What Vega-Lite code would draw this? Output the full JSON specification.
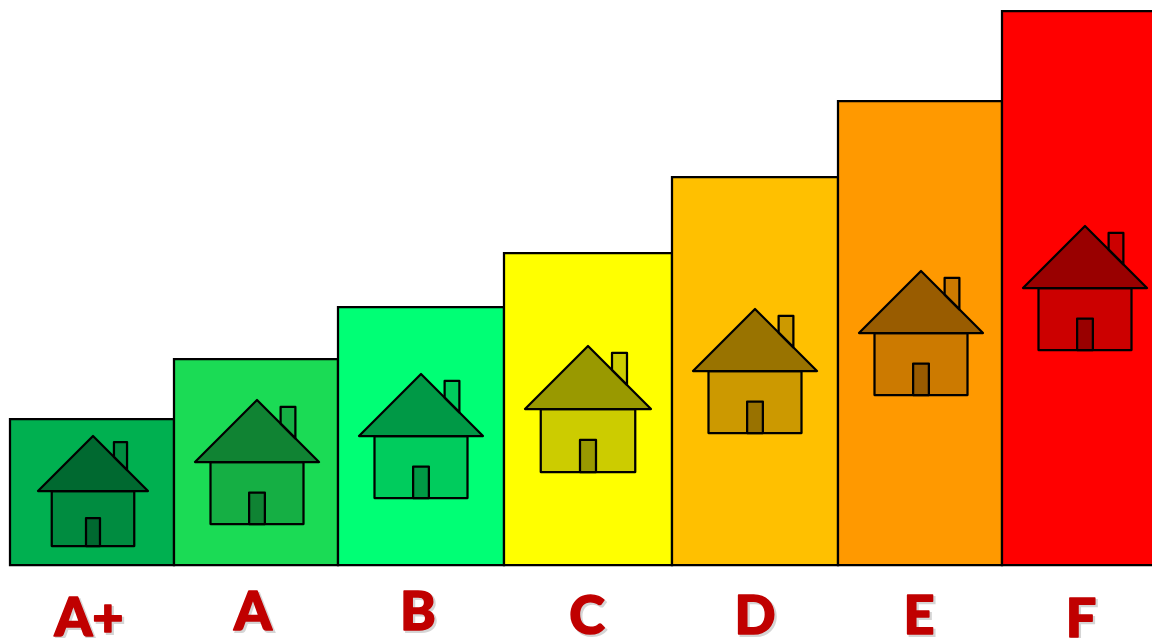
{
  "$schema": "https://vega.github.io/schema/vega-lite/v6.json",
  "autosize": {"type": "none"},
  "width": 1152,
  "height": 638,
  "padding": 0,
  "background": "white",
  "config": {"view": {"stroke": null}},
  "datasets": {
    "grades": [
      {"grade": "A+", "left": 10, "right": 174, "level": 146, "houseX": 93, "houseY": 74, "labelX": 89, "labelY": -71},
      {"grade": "A", "left": 174, "right": 338, "level": 206, "houseX": 257, "houseY": 103, "labelX": 253, "labelY": -65},
      {"grade": "B", "left": 338, "right": 504, "level": 258, "houseX": 421, "houseY": 129, "labelX": 418, "labelY": -65},
      {"grade": "C", "left": 504, "right": 672, "level": 312, "houseX": 588, "houseY": 156, "labelX": 587, "labelY": -69},
      {"grade": "D", "left": 672, "right": 838, "level": 388, "houseX": 755, "houseY": 194, "labelX": 755, "labelY": -69},
      {"grade": "E", "left": 838, "right": 1002, "level": 464, "houseX": 921, "houseY": 232, "labelX": 919, "labelY": -69},
      {"grade": "F", "left": 1002, "right": 1156, "level": 554, "houseX": 1085, "houseY": 277, "labelX": 1081, "labelY": -72}
    ]
  },
  "data": {"name": "grades"},
  "layer": [
    {
      "mark": {"type": "rect", "stroke": "black", "strokeWidth": 2.25},
      "encoding": {
        "x": {"field": "left", "type": "quantitative", "scale": {"domain": [0, 1152], "nice": false, "zero": false}, "axis": null},
        "x2": {"field": "right"},
        "y": {"field": "level", "type": "quantitative", "scale": {"domain": [-73, 565], "nice": false, "zero": false}, "axis": null},
        "y2": {"datum": 0},
        "fill": {
          "field": "grade",
          "type": "nominal",
          "legend": null,
          "scale": {
            "domain": ["A+", "A", "B", "C", "D", "E", "F"],
            "range": ["#00B050", "#1BDB55", "#00FF75", "#FFFF00", "#FFC000", "#FF9900", "#FF0000"]
          }
        }
      }
    },
    {
      "description": "chimney, outlined down to the roof slope",
      "mark": {"type": "point", "filled": true, "shape": "M0.381 -0.619 L0.381 -0.889 L0.619 -0.889 L0.619 -0.381 Z", "fill": "black", "fillOpacity": 0.2, "stroke": "black", "strokeWidth": 2.25, "strokeOpacity": 1, "strokeJoin": "round"},
      "encoding": {
        "x": {"field": "houseX", "type": "quantitative"},
        "y": {"field": "houseY", "type": "quantitative"},
        "size": {"field": "grade", "type": "nominal", "legend": null, "scale": {"type": "ordinal", "domain": ["A+", "A", "B", "C", "D", "E", "F"], "range": [12100, 15376, 15376, 15876, 15376, 15376, 15376]}}
      }
    },
    {
      "description": "house body",
      "mark": {"type": "point", "filled": true, "shape": "M-0.75 0 L0.75 0 L0.75 1 L-0.75 1 Z", "fill": "black", "fillOpacity": 0.2, "stroke": "black", "strokeWidth": 2.25, "strokeOpacity": 1, "strokeJoin": "round"},
      "encoding": {
        "x": {"field": "houseX", "type": "quantitative"},
        "y": {"field": "houseY", "type": "quantitative"},
        "size": {"field": "grade", "type": "nominal", "legend": null, "scale": {"type": "ordinal", "domain": ["A+", "A", "B", "C", "D", "E", "F"], "range": [12100, 15376, 15376, 15876, 15376, 15376, 15376]}}
      }
    },
    {
      "description": "roof",
      "mark": {"type": "point", "filled": true, "shape": "M-1 0 L0 -1 L1 0 Z", "fill": "black", "fillOpacity": 0.4, "stroke": "black", "strokeWidth": 2.25, "strokeOpacity": 1, "strokeJoin": "round"},
      "encoding": {
        "x": {"field": "houseX", "type": "quantitative"},
        "y": {"field": "houseY", "type": "quantitative"},
        "size": {"field": "grade", "type": "nominal", "legend": null, "scale": {"type": "ordinal", "domain": ["A+", "A", "B", "C", "D", "E", "F"], "range": [12100, 15376, 15376, 15876, 15376, 15376, 15376]}}
      }
    },
    {
      "description": "door, darkening the body it sits on",
      "mark": {"type": "point", "filled": true, "shape": "M-0.127 0.492 L0.127 0.492 L0.127 1 L-0.127 1 Z", "fill": "black", "fillOpacity": 0.25, "stroke": "black", "strokeWidth": 2.25, "strokeOpacity": 1, "strokeJoin": "round"},
      "encoding": {
        "x": {"field": "houseX", "type": "quantitative"},
        "y": {"field": "houseY", "type": "quantitative"},
        "size": {"field": "grade", "type": "nominal", "legend": null, "scale": {"type": "ordinal", "domain": ["A+", "A", "B", "C", "D", "E", "F"], "range": [12100, 15376, 15376, 15876, 15376, 15376, 15376]}}
      }
    },
    {
      "description": "soft drop shadow under the grade letters",
      "mark": {"type": "text", "font": "Lato", "fontWeight": 900, "fontSize": 54, "align": "center", "baseline": "alphabetic", "color": "#777777", "stroke": "#777777", "strokeWidth": 2, "opacity": 0.3, "dx": 2, "dy": 2},
      "encoding": {
        "x": {"field": "labelX", "type": "quantitative"},
        "y": {"field": "labelY", "type": "quantitative"},
        "text": {"field": "grade", "type": "nominal"}
      }
    },
    {
      "mark": {"type": "text", "font": "Lato", "fontWeight": 900, "fontSize": 54, "align": "center", "baseline": "alphabetic", "color": "#C00000", "stroke": "#C00000", "strokeWidth": 1.5, "strokeJoin": "round"},
      "encoding": {
        "x": {"field": "labelX", "type": "quantitative"},
        "y": {"field": "labelY", "type": "quantitative"},
        "text": {"field": "grade", "type": "nominal"}
      }
    }
  ]
}
